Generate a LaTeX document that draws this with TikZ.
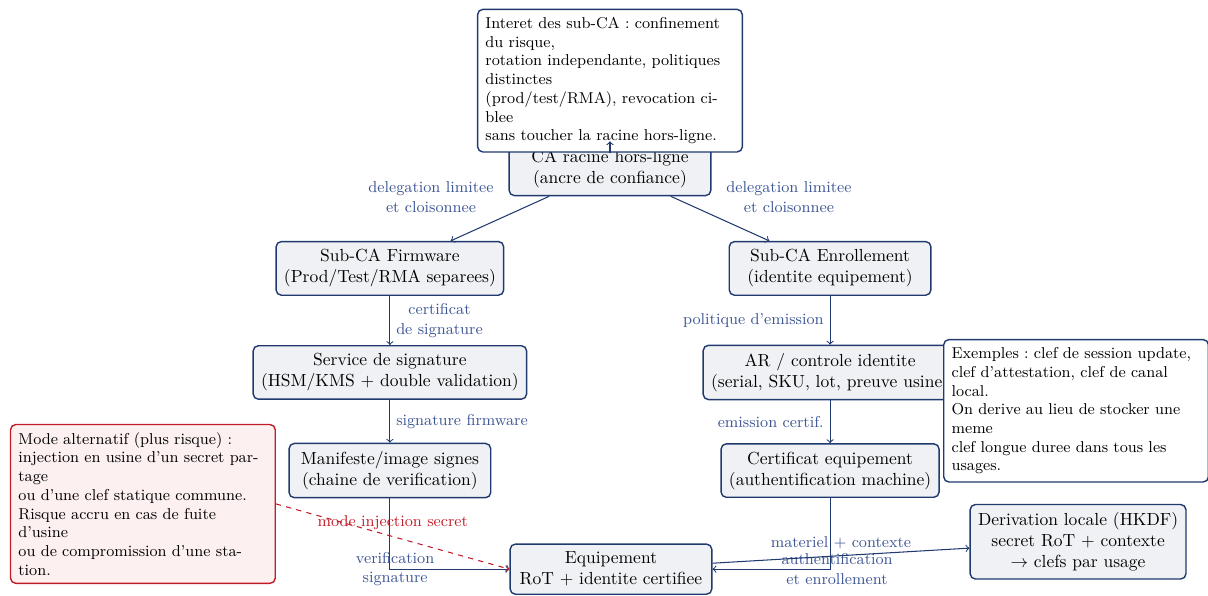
\documentclass[tikz,border=0pt]{standalone}
\usepackage{xcolor}
\usepackage{tikz}
\usepackage{amsmath}
\usepackage{amssymb}
\usetikzlibrary{positioning}

\definecolor{navy}{RGB}{32,58,112}
\definecolor{lblblue}{RGB}{62,86,150}
\definecolor{boxgray}{RGB}{240,241,244}
\definecolor{alertred}{RGB}{192,28,40}
\definecolor{alertpink}{RGB}{253,240,240}

\frenchspacing
\hyphenation{par-tage ci-blee sta-tion local usages}

\tikzset{
  box/.style={draw=navy, fill=boxgray, rounded corners=3pt, thick, align=center, inner sep=4.5pt, minimum width=4.05cm},
  note/.style={draw=navy, fill=white, rounded corners=3pt, thick, align=left, text width=5.0cm, font=\fontsize{9}{10.7}\selectfont, inner sep=4.5pt},
  alertnote/.style={note, draw=alertred, fill=alertpink},
  edge/.style={->, draw=navy, semithick},
  lbl/.style={font=\small, text=lblblue, align=center},
}

\begin{document}
\begin{tikzpicture}[on grid]
    \useasboundingbox (0,0) rectangle (24.26,-11.95);

    % Define nodes
    \node[box] (root) at (12.25,-3.39) {CA racine hors-ligne\\(ancre de confiance)};
    \node[box, below left=2cm and 4.42cm of root] (subfw) {Sub-CA Firmware\\(Prod/Test/RMA separees)};
    \node[box, below right=2cm and 4.42cm of root] (subenr) {Sub-CA Enrollement\\(identite equipement)};
    \node[box, below=2.09cm of subfw] (sign) {Service de signature\\(HSM/KMS $+$ double validation)};
    \node[box, below=1.97cm of sign] (manif) {Manifeste/image signes\\(chaine de verification)};
    \node[box, below=2.09cm of subenr] (ar) {AR / controle identite\\(serial, SKU, lot, preuve usine)};
    \node[box, below=1.97cm of ar] (cert) {Certificat equipement\\(authentification machine)};
    \node[box] (equip) at (12.27,-11.43) {Equipement\\RoT $+$ identite certifiee};
    \node[box] (deriv) at (21.65,-10.88) {Derivation locale (HKDF)\\secret RoT $+$ contexte\\$\rightarrow$ clefs par usage};

    % Notes
    \node[note] (why) at (12.25,-1.62) {Interet des sub-CA : confinement du risque,\\rotation independante, politiques distinctes\\(prod/test/RMA), revocation ciblee\\sans toucher la racine hors-ligne.};
    \node[note] (examples) at (21.61,-8.25) {Exemples : clef de session update,\\clef d'attestation, clef de canal local.\\On derive au lieu de stocker une meme\\clef longue duree dans tous les usages.};
    \node[alertnote] (alt) at (2.87,-10.12) {Mode alternatif (plus risque) :\\injection en usine d'un secret partage\\ou d'une clef statique commune.\\Risque accru en cas de fuite d'usine\\ou de compromission d'une station.};

    % Define connections
    \draw[edge] (why) -- (root);
    \draw[edge] (root) -- (subfw) node[lbl, midway, above left] {delegation limitee\\et cloisonnee};
    \draw[edge] (root) -- (subenr) node[lbl, midway, above right] {delegation limitee\\et cloisonnee};
    \draw[edge] (subfw) -- (sign) node[lbl, midway, right] {certificat\\de signature};
    \draw[edge] (sign) -- (manif) node[lbl, midway, right] {signature firmware};
    \draw[edge] (subenr) -- (ar) node[lbl, midway, left] {politique d'emission};
    \draw[edge] (ar) -- (cert) node[lbl, midway, left] {emission certif.};
    \draw[edge] (manif) |- (equip) node[lbl, pos=0.5, xshift=3pt] {verification\\signature};
    \draw[edge] (cert) |- (equip) node[lbl, pos=0.5, xshift=4pt] {authentification\\et enrollement};
    \draw[edge] (equip) -- (deriv) node[lbl, midway, above] {materiel $+$ contexte};
    \draw[edge, draw=alertred, dashed] (alt.east) -- (equip.west) node[lbl, midway, above, text=alertred] {mode injection secret};
\end{tikzpicture}
\end{document}
